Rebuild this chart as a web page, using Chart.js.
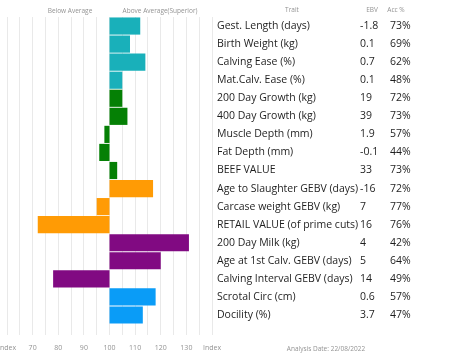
<!DOCTYPE html>
<html>
<head>
<meta charset="utf-8">
<script src="https://cdn.jsdelivr.net/npm/chart.js@4"></script>
<style>
  html, body { margin: 0; padding: 0; background: #fff; }
  #wrap { width: 453px; height: 362px; position: relative; }
</style>
</head>
<body>
<div id="wrap"><canvas id="chart"></canvas></div>
<script>
const traits = [
  'Gest. Length (days)', 'Birth Weight (kg)', 'Calving Ease (%)', 'Mat.Calv. Ease (%)',
  '200 Day Growth (kg)', '400 Day Growth (kg)', 'Muscle Depth (mm)', 'Fat Depth (mm)',
  'BEEF VALUE', 'Age to Slaughter GEBV (days)', 'Carcase weight GEBV (kg)',
  'RETAIL VALUE (of prime cuts)', '200 Day Milk (kg)', 'Age at 1st Calv. GEBV (days)',
  'Calving Interval GEBV (days)', 'Scrotal Circ (cm)', 'Docility (%)'
]
const ebv = ['-1.8', '0.1', '0.7', '0.1', '19', '39', '1.9', '-0.1', '33', '-16', '7', '16', '4', '5', '14', '0.6', '3.7']
const acc = ['73%', '69%', '62%', '48%', '72%', '73%', '57%', '44%', '73%', '72%', '77%', '76%', '42%', '64%', '49%', '57%', '47%']
const indexValues = [112, 108, 114, 105, 105, 107, 98, 96, 103, 117, 95, 72, 131, 120, 78, 118, 113]
const groups = ['calving', 'calving', 'calving', 'calving', 'growth', 'growth', 'growth', 'growth', 'growth',
  'carcase', 'carcase', 'carcase', 'maternal', 'maternal', 'maternal', 'other', 'other']
const xTickLabels = { 60: 'Index', 70: '70', 80: '80', 90: '90', 100: '100', 110: '110', 120: '120', 130: '130', 140: 'Index' }

const groupColors = {
  calving: '#19b0ba',
  growth: '#058005',
  carcase: '#ff9b05',
  maternal: '#810a82',
  other: '#0a9cf7'
}

const tablePlugin = {
  id: 'tablePlugin',
  afterDraw(chart) {
    const ctx = chart.ctx
    const y = chart.scales.y
    ctx.save()
    ctx.textBaseline = 'middle'

    // headers
    ctx.fillStyle = '#939393'
    ctx.font = '6.5px "Open Sans"'
    ctx.textAlign = 'center'
    ctx.fillText('Below Average', 70, 11)
    ctx.fillText('Above Average(Superior)', 160, 11)
    ctx.fillText('Trait', 292, 10)
    ctx.fillText('EBV', 372, 10)
    ctx.fillText('Acc %', 396, 10)
    ctx.fillText('Analysis Date: 22/08/2022', 326, 349)

    // rows
    ctx.fillStyle = '#1e1e1e'
    ctx.font = '10.5px "Open Sans"'
    ctx.textAlign = 'left'
    traits.forEach((t, i) => {
      const py = y.getPixelForValue(i)
      ctx.fillText(t, 217, py)
      ctx.fillText(ebv[i], 360, py)
      ctx.fillText(acc[i], 390, py)
    })
    ctx.restore()
  }
}

new Chart(document.getElementById('chart'), {
  type: 'bar',
  data: {
    labels: traits,
    datasets: [{
      data: indexValues.map(v => [100, v]),
      backgroundColor: groups.map(g => groupColors[g]),
      borderWidth: 0,
      barPercentage: 0.95,
      categoryPercentage: 1
    }]
  },
  options: {
    indexAxis: 'y',
    responsive: true,
    maintainAspectRatio: false,
    animation: false,
    layout: {
      padding: { left: 7, right: 241, top: 17, bottom: 0 }
    },
    plugins: {
      legend: { display: false },
      tooltip: { enabled: false }
    },
    scales: {
      x: {
        min: 60,
        max: 140,
        afterFit: s => {
          s.height = 38
          s.paddingLeft = 0
          s.paddingRight = 0
        },
        border: { display: false },
        grid: {
          color: '#e9e9e9',
          drawTicks: true,
          tickLength: 11
        },
        ticks: {
          stepSize: 5,
          autoSkip: false,
          maxRotation: 0,
          padding: 9,
          color: '#939393',
          font: { size: 7, family: 'Open Sans' },
          callback: v => xTickLabels[v] || ''
        }
      },
      y: {
        display: false
      }
    }
  },
  plugins: [tablePlugin]
})
</script>
</body>
</html>
